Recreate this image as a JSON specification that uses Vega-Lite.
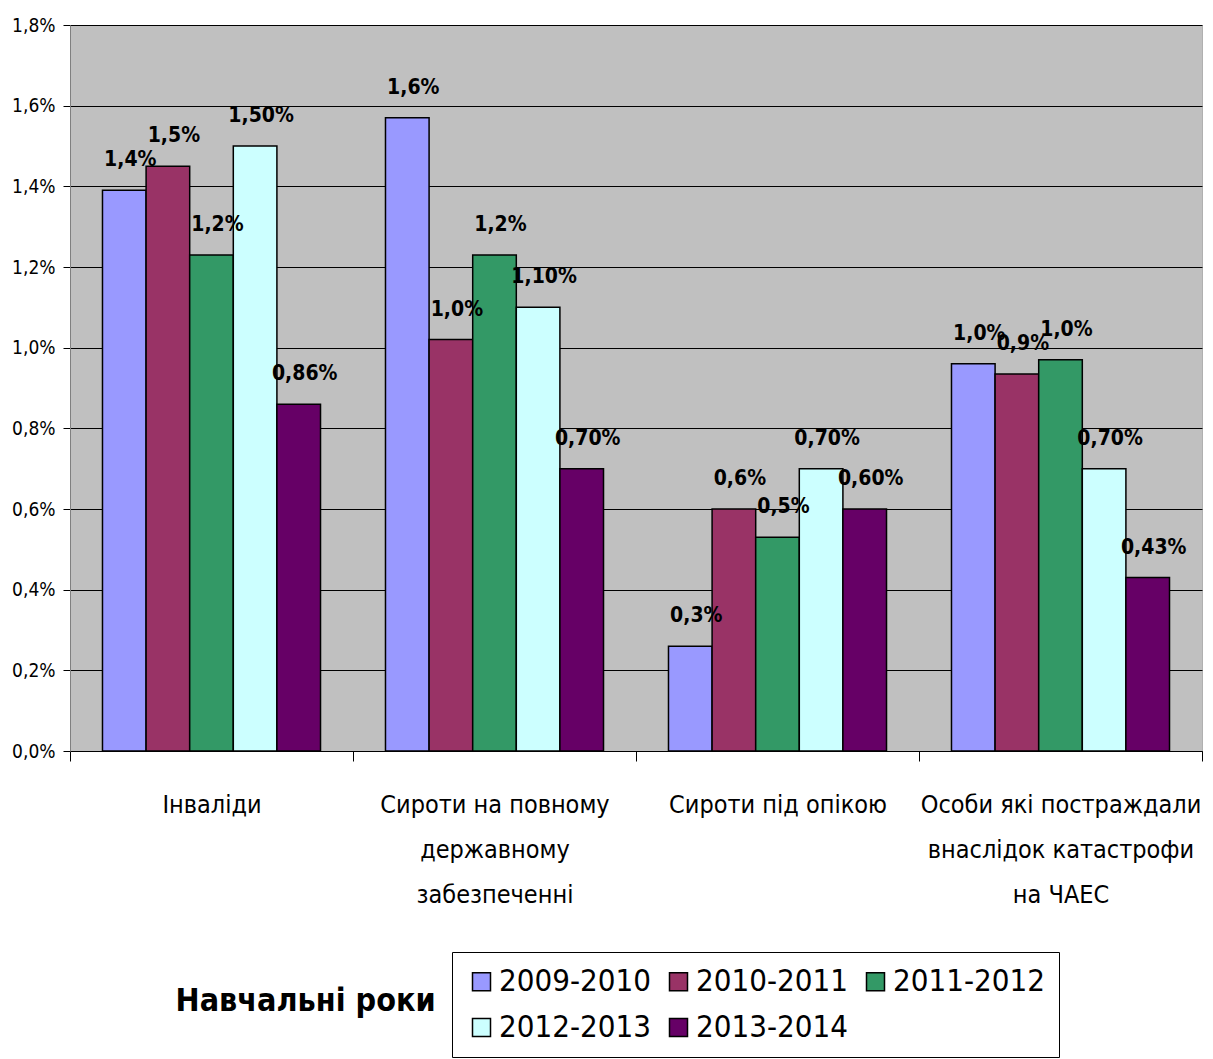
{
  "$schema": "https://vega.github.io/schema/vega-lite/v6.json",
  "width": 1132,
  "height": 726,
  "autosize": {"type": "none"},
  "padding": {"left": 70, "top": 25, "right": 11, "bottom": 308},
  "background": "white",
  "config": {
    "view": {"fill": "#C0C0C0", "stroke": "#B0B0B0"},
    "font": "DejaVu Sans Condensed"
  },
  "title": {
    "text": "Навчальні роки",
    "orient": "bottom",
    "anchor": "start",
    "dx": 164,
    "dy": -72,
    "offset": 0,
    "font": "DejaVu Sans Condensed",
    "fontSize": 32,
    "fontWeight": "bold",
    "color": "black"
  },
  "data": {
    "values": [
      {"group": "Інваліди", "year": "2009-2010", "value": 1.39, "label": "1,4%"},
      {"group": "Інваліди", "year": "2010-2011", "value": 1.45, "label": "1,5%"},
      {"group": "Інваліди", "year": "2011-2012", "value": 1.23, "label": "1,2%"},
      {"group": "Інваліди", "year": "2012-2013", "value": 1.50, "label": "1,50%"},
      {"group": "Інваліди", "year": "2013-2014", "value": 0.86, "label": "0,86%"},
      {"group": "Сироти на повному державному забезпеченні", "year": "2009-2010", "value": 1.57, "label": "1,6%"},
      {"group": "Сироти на повному державному забезпеченні", "year": "2010-2011", "value": 1.02, "label": "1,0%"},
      {"group": "Сироти на повному державному забезпеченні", "year": "2011-2012", "value": 1.23, "label": "1,2%"},
      {"group": "Сироти на повному державному забезпеченні", "year": "2012-2013", "value": 1.10, "label": "1,10%"},
      {"group": "Сироти на повному державному забезпеченні", "year": "2013-2014", "value": 0.70, "label": "0,70%"},
      {"group": "Сироти під опікою", "year": "2009-2010", "value": 0.26, "label": "0,3%"},
      {"group": "Сироти під опікою", "year": "2010-2011", "value": 0.60, "label": "0,6%"},
      {"group": "Сироти під опікою", "year": "2011-2012", "value": 0.53, "label": "0,5%"},
      {"group": "Сироти під опікою", "year": "2012-2013", "value": 0.70, "label": "0,70%"},
      {"group": "Сироти під опікою", "year": "2013-2014", "value": 0.60, "label": "0,60%"},
      {"group": "Особи які постраждали внаслідок катастрофи на ЧАЕС", "year": "2009-2010", "value": 0.96, "label": "1,0%"},
      {"group": "Особи які постраждали внаслідок катастрофи на ЧАЕС", "year": "2010-2011", "value": 0.935, "label": "0,9%"},
      {"group": "Особи які постраждали внаслідок катастрофи на ЧАЕС", "year": "2011-2012", "value": 0.97, "label": "1,0%"},
      {"group": "Особи які постраждали внаслідок катастрофи на ЧАЕС", "year": "2012-2013", "value": 0.70, "label": "0,70%"},
      {"group": "Особи які постраждали внаслідок катастрофи на ЧАЕС", "year": "2013-2014", "value": 0.43, "label": "0,43%"}
    ]
  },
  "encoding": {
    "x": {
      "field": "group",
      "type": "nominal",
      "sort": ["Інваліди", "Сироти на повному державному забезпеченні", "Сироти під опікою", "Особи які постраждали внаслідок катастрофи на ЧАЕС"],
      "scale": {"paddingInner": 0, "paddingOuter": 0},
      "axis": {
        "title": null,
        "labelAngle": 0,
        "tickBand": "extent",
        "tickSize": 10,
        "tickColor": "black",
        "domainColor": "black",
        "labelFontSize": 25,
        "labelFont": "DejaVu Sans Condensed",
        "labelColor": "black",
        "labelPadding": 31,
        "labelLineHeight": 45,
        "labelBaseline": "top",
        "labelLimit": 0,
        "labelExpr": "datum.value == 'Сироти на повному державному забезпеченні' ? ['Сироти на повному', 'державному', 'забезпеченні'] : datum.value == 'Особи які постраждали внаслідок катастрофи на ЧАЕС' ? ['Особи які постраждали', 'внаслідок катастрофи', 'на ЧАЕС'] : datum.value"
      }
    },
    "xOffset": {
      "field": "year",
      "type": "nominal",
      "scale": {"paddingInner": 0, "paddingOuter": 0.745}
    },
    "y": {
      "field": "value",
      "type": "quantitative",
      "scale": {"domain": [0, 1.8], "nice": false},
      "axis": {
        "title": null,
        "values": [0, 0.2, 0.4, 0.6, 0.8, 1.0, 1.2, 1.4, 1.6, 1.8],
        "labelExpr": "replace(format(datum.value, '.1f'), '.', ',') + '%'",
        "grid": true,
        "gridColor": "black",
        "gridWidth": 1,
        "gridOpacity": 1,
        "domainColor": "#808080",
        "tickColor": "black",
        "tickSize": 7,
        "labelFontSize": 19,
        "labelFont": "DejaVu Sans Condensed",
        "labelColor": "black",
        "labelPadding": 8
      }
    }
  },
  "layer": [
    {
      "mark": {"type": "bar", "stroke": "black", "strokeWidth": 1.5},
      "encoding": {
        "color": {
          "field": "year",
          "type": "nominal",
          "scale": {
            "domain": ["2009-2010", "2010-2011", "2011-2012", "2012-2013", "2013-2014"],
            "range": ["#9999FF", "#993366", "#339966", "#CCFFFF", "#660066"]
          },
          "legend": {
            "orient": "none",
            "legendX": 382,
            "legendY": 927,
            "direction": "horizontal",
            "columns": 3,
            "title": null,
            "strokeColor": "black",
            "fillColor": "white",
            "padding": 14,
            "labelFontSize": 31,
            "labelFont": "DejaVu Sans Condensed",
            "labelColor": "black",
            "labelOffset": 2,
            "labelLimit": 0,
            "symbolType": "square",
            "symbolSize": 324,
            "symbolStrokeColor": "black",
            "symbolStrokeWidth": 1.5,
            "symbolOpacity": 1,
            "columnPadding": 12,
            "rowPadding": 14
          }
        }
      }
    },
    {
      "mark": {"type": "text", "fontWeight": "bold", "fontSize": 21, "dy": -30, "dx": 6, "baseline": "middle", "color": "black", "font": "DejaVu Sans Condensed"},
      "encoding": {
        "text": {"field": "label"}
      }
    }
  ]
}
